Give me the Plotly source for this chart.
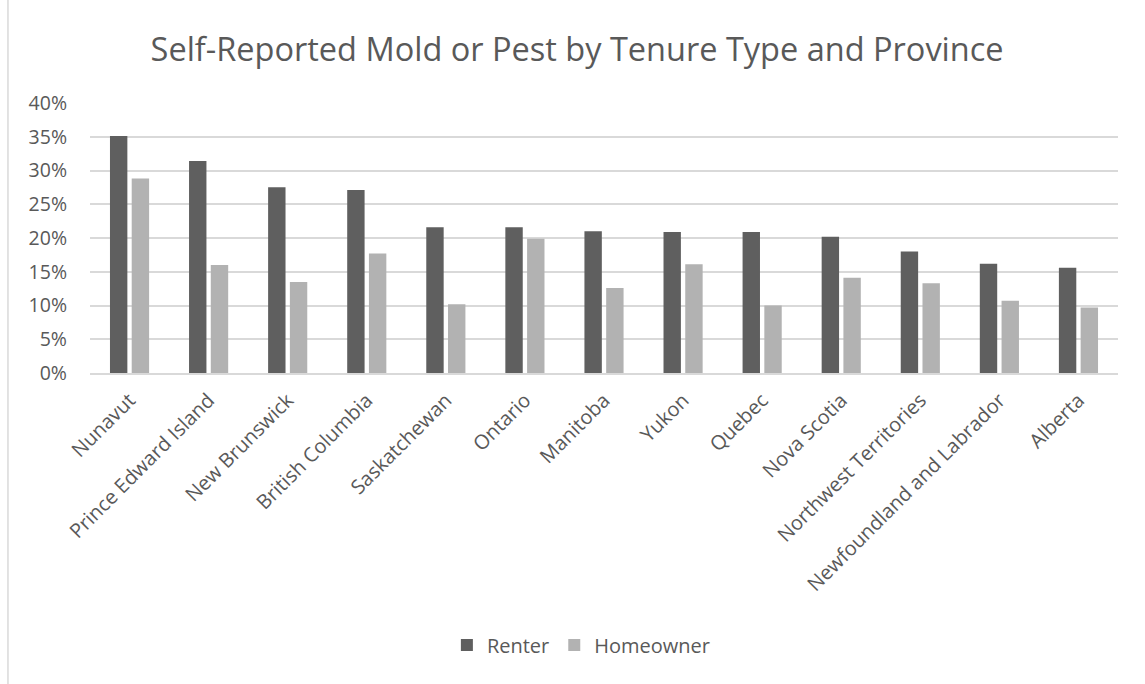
import plotly.graph_objects as go

provinces = [
    "Nunavut", "Prince Edward Island", "New Brunswick", "British Columbia",
    "Saskatchewan", "Ontario", "Manitoba", "Yukon", "Quebec", "Nova Scotia",
    "Northwest Territories", "Newfoundland and Labrador", "Alberta",
]
renter = [0.351, 0.314, 0.275, 0.271, 0.216, 0.216, 0.210, 0.209, 0.209, 0.202, 0.180, 0.162, 0.156]
homeowner = [0.288, 0.160, 0.135, 0.177, 0.102, 0.199, 0.126, 0.161, 0.100, 0.141, 0.133, 0.107, 0.097]
y_ticks = [0, 0.05, 0.10, 0.15, 0.20, 0.25, 0.30, 0.35, 0.40]

TEXT = "#595959"
FONT = "Open Sans"

fig = go.Figure()
fig.add_trace(go.Bar(name="Renter", x=provinces, y=renter, marker=dict(color="#5f5f5f", line=dict(width=0))))
fig.add_trace(go.Bar(name="Homeowner", x=provinces, y=homeowner, marker=dict(color="#b2b2b2", line=dict(width=0))))

fig.update_layout(
    width=1145, height=684,
    margin=dict(l=90, r=27, t=103, b=311),
    paper_bgcolor="white", plot_bgcolor="white",
    barmode="group", bargap=0.45, bargroupgap=0.2,
    font=dict(family=FONT, color=TEXT),
    title=dict(
        text="Self-Reported Mold or Pest by Tenure Type and Province",
        x=0.504, xanchor="center", y=0.927, yanchor="middle",
        font=dict(size=32.5, color=TEXT, family=FONT),
    ),
    legend=dict(
        orientation="h", x=0.478, xanchor="center", y=-1.007, yanchor="middle",
        font=dict(size=20, color=TEXT, family=FONT),
        itemwidth=30, traceorder="normal",
    ),
    showlegend=True,
)
fig.update_xaxes(
    tickangle=-45, tickfont=dict(size=20, color=TEXT, family=FONT),
    showline=True, linecolor="#d9d9d9", linewidth=1.5, showgrid=False,
    ticks="", ticklen=0, ticklabelstandoff=6,
)
fig.update_yaxes(
    range=[0, 0.40], tickvals=y_ticks, tickformat=".0%",
    tickfont=dict(size=19.5, color=TEXT, family=FONT),
    showgrid=True, gridcolor="#d9d9d9", gridwidth=1.5,
    zeroline=False, showline=False, ticks="", ticklen=0,
    ticklabelstandoff=22,
)

# left edge of the chart frame
fig.add_shape(type="line", xref="paper", yref="paper",
              x0=-0.0798, x1=-0.0798, y0=-1.2, y1=1.5,
              line=dict(color="#d9d9d9", width=1.5), layer="below")

fig.write_html("out.html")
